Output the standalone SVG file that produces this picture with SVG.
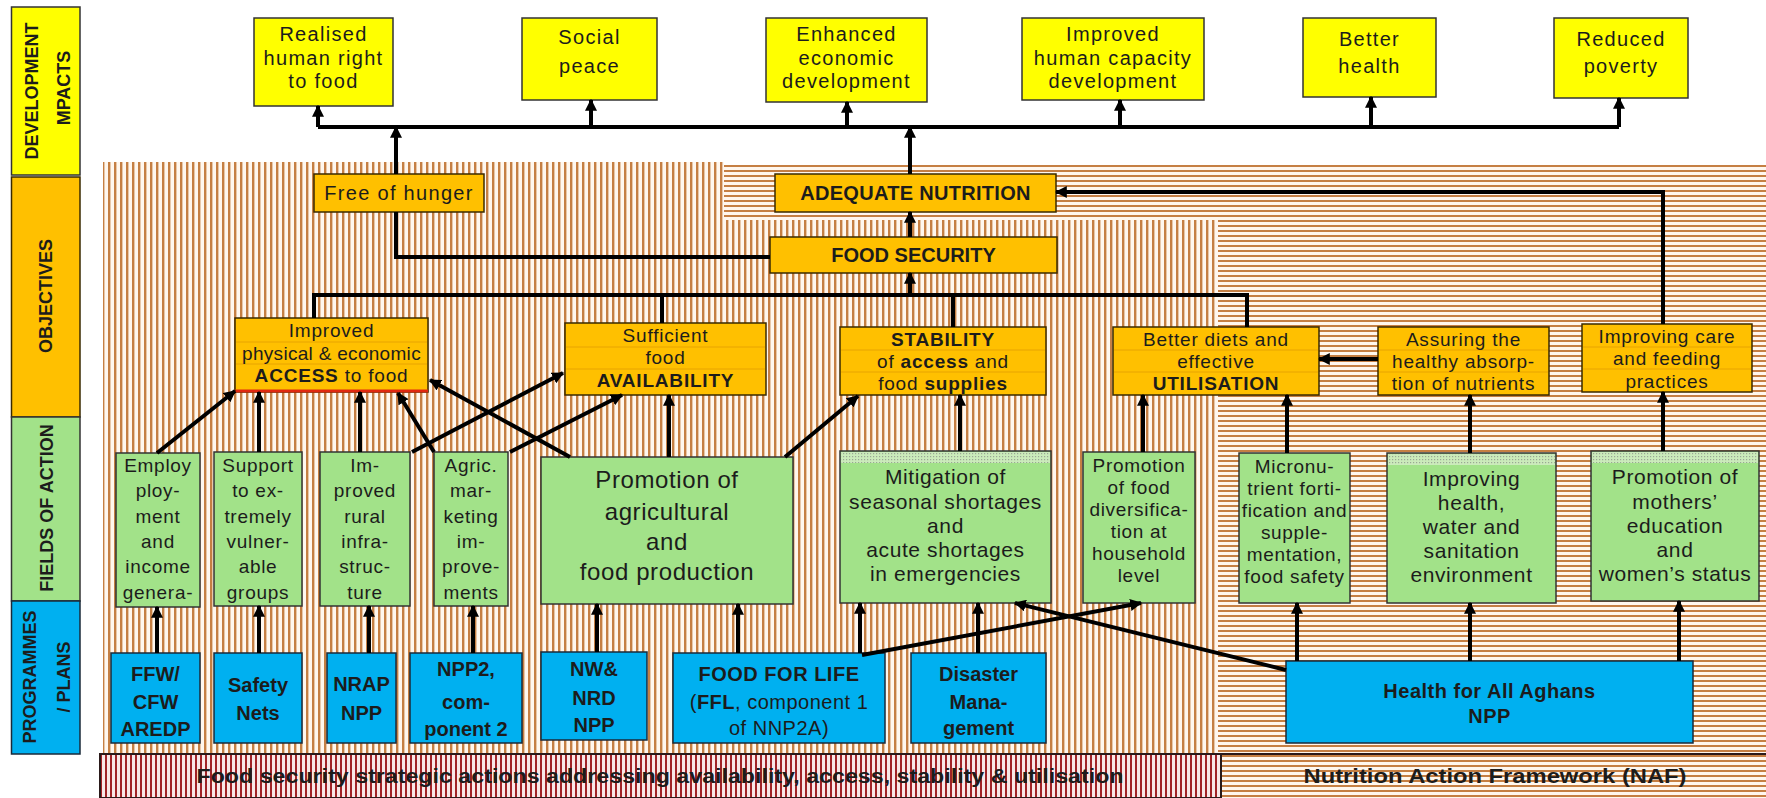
<svg xmlns="http://www.w3.org/2000/svg" width="1766" height="798" viewBox="0 0 1766 798">
<defs>
<pattern id="vs" width="6" height="8" patternUnits="userSpaceOnUse"><rect width="6" height="8" fill="#FFF7EE"/><rect width="2.4" height="8" fill="#C57F43"/></pattern>
<pattern id="hs" width="8" height="5" patternUnits="userSpaceOnUse"><rect width="8" height="5" fill="#FFF7EE"/><rect width="8" height="2" fill="#C57F43"/></pattern>
<pattern id="rs" width="5" height="8" patternUnits="userSpaceOnUse"><rect width="5" height="8" fill="#F8E8E8"/><rect width="2" height="8" fill="#A02327"/></pattern>
<pattern id="dt" width="3" height="3" patternUnits="userSpaceOnUse"><rect width="3" height="3" fill="#CBEBBB"/><rect width="1.2" height="1.2" fill="#9AA894"/></pattern>
<marker id="ah" viewBox="0 0 10 10" refX="9" refY="5" markerWidth="12" markerHeight="12" markerUnits="userSpaceOnUse" orient="auto"><path d="M0,0 L10,5 L0,10 z" fill="#000"/></marker>
</defs>
<style>
.ft{font-family:"Liberation Sans",Arial,sans-serif;text-anchor:middle;fill:#1c1c1c}
.b{font-weight:bold}
.yl{fill:#FFFF00;stroke:#333;stroke-width:1.5}
.or{fill:#FFC000;stroke:#3a2a00;stroke-width:1.5}
.gr{fill:#A2E289;stroke:#333;stroke-width:1.5}
.bl{fill:#00B0F0;stroke:#1a2a3a;stroke-width:1.5}
.rl{stroke:#E8A400;stroke-width:1}
.top{font-size:20px;letter-spacing:1.3px}
.obj{font-size:19px;letter-spacing:0.8px}
.fn{font-size:19px;letter-spacing:0.7px}
.fw{font-size:21px;letter-spacing:0.6px}
.pg{font-size:20px;font-weight:bold}
.lb{font-size:18px;font-weight:bold}
#connectors path{fill:none;stroke:#000;stroke-width:4}
.ar{marker-end:url(#ah)}
</style>
<rect width="1766" height="798" fill="#FFFFFF"/>
<g id="background">
<path d="M103,162 H724 V220 H1218 V754 H103 Z" fill="url(#vs)"/>
<path d="M724,165 H1766 V798 H1218 V220 H724 Z" fill="url(#hs)"/>
</g>
<g id="band-fs">
<rect x="100" y="754" width="1121" height="44" fill="url(#rs)" stroke="#2a1a1a" stroke-width="2"/>
<text class="ft b" x="660" y="783" font-size="20" fill="#2a0808" textLength="927" lengthAdjust="spacingAndGlyphs">Food security strategic actions addressing availability, access, stability &amp; utilisation</text>
</g>
<g id="band-naf">
<path d="M1221,798 V754 H1766" fill="none" stroke="#2a1a1a" stroke-width="2"/>
<text class="ft b" x="1495" y="783" font-size="20" textLength="383" lengthAdjust="spacingAndGlyphs">Nutrition Action Framework (NAF)</text>
</g>
<g id="label-impacts">
<rect x="11.5" y="7" width="68.5" height="168" class="yl"/>
<text class="ft lb" transform="translate(37.5,91) rotate(-90)">DEVELOPMENT</text>
<text class="ft lb" transform="translate(69.5,88) rotate(-90)">MPACTS</text>
</g>
<g id="label-objectives">
<rect x="11.5" y="177" width="68.5" height="240" class="or"/>
<text class="ft lb" transform="translate(52,296) rotate(-90)">OBJECTIVES</text>
</g>
<g id="label-fields">
<rect x="11.5" y="417" width="68.5" height="184" class="gr"/>
<text class="ft lb" transform="translate(53,508) rotate(-90)">FIELDS OF ACTION</text>
</g>
<g id="label-programmes">
<rect x="11.5" y="601" width="68.5" height="153" class="bl"/>
<text class="ft lb" transform="translate(36,677) rotate(-90)">PROGRAMMES</text>
<text class="ft lb" transform="translate(69.5,677) rotate(-90)">/ PLANS</text>
</g>

<g id="impact-right-to-food"><rect x="254" y="18" width="139" height="88" class="yl"/>
<text class="ft top"><tspan x="323.5" y="41">Realised</tspan><tspan x="323.5" y="65">human right</tspan><tspan x="323.5" y="88">to food</tspan></text></g>
<g id="impact-social-peace"><rect x="522" y="18" width="135" height="82" class="yl"/>
<text class="ft top"><tspan x="589.5" y="44">Social</tspan><tspan x="589.5" y="73">peace</tspan></text></g>
<g id="impact-economic"><rect x="766" y="18" width="161" height="84" class="yl"/>
<text class="ft top"><tspan x="846.5" y="41">Enhanced</tspan><tspan x="846.5" y="65">economic</tspan><tspan x="846.5" y="88">development</tspan></text></g>
<g id="impact-human-capacity"><rect x="1022" y="18" width="182" height="82" class="yl"/>
<text class="ft top"><tspan x="1113" y="41">Improved</tspan><tspan x="1113" y="65">human capacity</tspan><tspan x="1113" y="88">development</tspan></text></g>
<g id="impact-health"><rect x="1303" y="18" width="133" height="79" class="yl"/>
<text class="ft top"><tspan x="1369.5" y="46">Better</tspan><tspan x="1369.5" y="73">health</tspan></text></g>
<g id="impact-poverty"><rect x="1554" y="18" width="134" height="80" class="yl"/>
<text class="ft top"><tspan x="1621" y="46">Reduced</tspan><tspan x="1621" y="73">poverty</tspan></text></g>

<g id="obj-free-of-hunger"><rect x="314" y="174" width="170" height="38" class="or"/>
<text class="ft top" x="399" y="200">Free of hunger</text></g>
<g id="obj-adequate-nutrition"><rect x="775" y="174" width="281" height="38" class="or"/>
<text class="ft b" x="915.5" y="200" font-size="20" letter-spacing="0.3">ADEQUATE NUTRITION</text></g>
<g id="obj-food-security"><rect x="770" y="237" width="287" height="36" class="or" stroke-width="2.5"/>
<text class="ft b" x="913.5" y="262" font-size="20">FOOD SECURITY</text></g>
<g id="obj-access"><rect x="235" y="318" width="193" height="74" class="or"/>
<line x1="236" y1="342" x2="427" y2="342" class="rl"/><line x1="236" y1="364" x2="427" y2="364" class="rl"/>
<line x1="235" y1="391" x2="428" y2="391" stroke="#E02810" stroke-width="3"/>
<text class="ft obj"><tspan x="331.5" y="337">Improved</tspan><tspan x="331.5" y="360" letter-spacing="0.3">physical &amp; economic</tspan><tspan x="331.5" y="382"><tspan class="b">ACCESS</tspan> to food</tspan></text></g>
<g id="obj-availability"><rect x="565" y="323" width="201" height="72" class="or"/>
<line x1="566" y1="347" x2="765" y2="347" class="rl"/><line x1="566" y1="369" x2="765" y2="369" class="rl"/>
<text class="ft obj"><tspan x="665.5" y="342">Sufficient</tspan><tspan x="665.5" y="364">food</tspan><tspan x="665.5" y="387" class="b">AVAILABILITY</tspan></text></g>
<g id="obj-stability"><rect x="840" y="327" width="206" height="68" class="or"/>
<line x1="841" y1="350" x2="1045" y2="350" class="rl"/><line x1="841" y1="372" x2="1045" y2="372" class="rl"/>
<text class="ft obj"><tspan x="943" y="346" class="b">STABILITY</tspan><tspan x="943" y="368">of <tspan class="b">access</tspan> and</tspan><tspan x="943" y="390">food <tspan class="b">supplies</tspan></tspan></text></g>
<g id="obj-utilisation"><rect x="1113" y="327" width="206" height="68" class="or"/>
<line x1="1114" y1="350" x2="1318" y2="350" class="rl"/><line x1="1114" y1="372" x2="1318" y2="372" class="rl"/>
<text class="ft obj"><tspan x="1216" y="346">Better diets and</tspan><tspan x="1216" y="368">effective</tspan><tspan x="1216" y="390" class="b">UTILISATION</tspan></text></g>
<g id="obj-absorption"><rect x="1378" y="327" width="171" height="68" class="or"/>
<line x1="1379" y1="350" x2="1548" y2="350" class="rl"/><line x1="1379" y1="372" x2="1548" y2="372" class="rl"/>
<text class="ft obj"><tspan x="1463.5" y="346">Assuring the</tspan><tspan x="1463.5" y="368">healthy absorp-</tspan><tspan x="1463.5" y="390">tion of nutrients</tspan></text></g>
<g id="obj-care"><rect x="1582" y="324" width="170" height="68" class="or"/>
<line x1="1583" y1="347" x2="1751" y2="347" class="rl"/><line x1="1583" y1="369" x2="1751" y2="369" class="rl"/>
<text class="ft obj"><tspan x="1667" y="343">Improving care</tspan><tspan x="1667" y="365">and feeding</tspan><tspan x="1667" y="388">practices</tspan></text></g>

<g id="field-employment"><rect x="116" y="453" width="84" height="154" class="gr"/>
<text class="ft fn"><tspan x="158" y="472">Employ</tspan><tspan x="158" y="497">ploy-</tspan><tspan x="158" y="523">ment</tspan><tspan x="158" y="548">and</tspan><tspan x="158" y="573">income</tspan><tspan x="158" y="599">genera-</tspan></text></g>
<g id="field-vulnerable"><rect x="214" y="452" width="88" height="154" class="gr"/>
<text class="ft fn"><tspan x="258" y="472">Support</tspan><tspan x="258" y="497">to ex-</tspan><tspan x="258" y="523">tremely</tspan><tspan x="258" y="548">vulner-</tspan><tspan x="258" y="573">able</tspan><tspan x="258" y="599">groups</tspan></text></g>
<g id="field-infrastructure"><rect x="320" y="452" width="90" height="154" class="gr"/>
<text class="ft fn"><tspan x="365" y="472">Im-</tspan><tspan x="365" y="497">proved</tspan><tspan x="365" y="523">rural</tspan><tspan x="365" y="548">infra-</tspan><tspan x="365" y="573">struc-</tspan><tspan x="365" y="599">ture</tspan></text></g>
<g id="field-marketing"><rect x="434" y="452" width="74" height="154" class="gr"/>
<text class="ft fn"><tspan x="471" y="472">Agric.</tspan><tspan x="471" y="497">mar-</tspan><tspan x="471" y="523">keting</tspan><tspan x="471" y="548">im-</tspan><tspan x="471" y="573">prove-</tspan><tspan x="471" y="599">ments</tspan></text></g>
<g id="field-production"><rect x="541" y="457" width="252" height="147" class="gr"/>
<text class="ft" font-size="24" letter-spacing="0.6"><tspan x="667" y="488">Promotion of</tspan><tspan x="667" y="520">agricultural</tspan><tspan x="667" y="550">and</tspan><tspan x="667" y="580">food production</tspan></text></g>
<g id="field-shortages"><rect x="840" y="451" width="211" height="152" class="gr"/>
<rect x="841" y="452" width="209" height="11" fill="url(#dt)"/>
<text class="ft fw"><tspan x="945.5" y="484">Mitigation of</tspan><tspan x="945.5" y="509">seasonal shortages</tspan><tspan x="945.5" y="533">and</tspan><tspan x="945.5" y="557">acute shortages</tspan><tspan x="945.5" y="581">in emergencies</tspan></text></g>
<g id="field-diversification"><rect x="1083" y="452" width="112" height="151" class="gr"/>
<text class="ft fn"><tspan x="1139" y="472">Promotion</tspan><tspan x="1139" y="494">of food</tspan><tspan x="1139" y="516">diversifica-</tspan><tspan x="1139" y="538">tion at</tspan><tspan x="1139" y="560">household</tspan><tspan x="1139" y="582">level</tspan></text></g>
<g id="field-micronutrient"><rect x="1239" y="453" width="111" height="150" class="gr"/>
<text class="ft fn"><tspan x="1294.5" y="473">Micronu-</tspan><tspan x="1294.5" y="495">trient forti-</tspan><tspan x="1294.5" y="517">fication and</tspan><tspan x="1294.5" y="539">supple-</tspan><tspan x="1294.5" y="561">mentation,</tspan><tspan x="1294.5" y="583">food safety</tspan></text></g>
<g id="field-wash"><rect x="1387" y="453" width="169" height="150" class="gr"/>
<rect x="1388" y="454" width="167" height="11" fill="url(#dt)"/>
<text class="ft fw"><tspan x="1471.5" y="486">Improving</tspan><tspan x="1471.5" y="510">health,</tspan><tspan x="1471.5" y="534">water and</tspan><tspan x="1471.5" y="558">sanitation</tspan><tspan x="1471.5" y="582">environment</tspan></text></g>
<g id="field-mothers"><rect x="1591" y="451" width="168" height="150" class="gr"/>
<rect x="1592" y="452" width="166" height="11" fill="url(#dt)"/>
<text class="ft fw"><tspan x="1675" y="484">Promotion of</tspan><tspan x="1675" y="509">mothers’</tspan><tspan x="1675" y="533">education</tspan><tspan x="1675" y="557">and</tspan><tspan x="1675" y="581">women’s status</tspan></text></g>

<g id="prog-ffw"><rect x="111" y="653" width="89" height="90" class="bl"/>
<text class="ft pg"><tspan x="155.5" y="681">FFW/</tspan><tspan x="155.5" y="709">CFW</tspan><tspan x="155.5" y="736">AREDP</tspan></text></g>
<g id="prog-safety-nets"><rect x="214" y="653" width="88" height="90" class="bl"/>
<text class="ft pg"><tspan x="258" y="692">Safety</tspan><tspan x="258" y="720">Nets</tspan></text></g>
<g id="prog-nrap"><rect x="327" y="653" width="69" height="90" class="bl"/>
<text class="ft pg"><tspan x="361.5" y="691">NRAP</tspan><tspan x="361.5" y="720">NPP</tspan></text></g>
<g id="prog-npp2"><rect x="410" y="653" width="112" height="90" class="bl"/>
<text class="ft pg"><tspan x="466" y="676">NPP2,</tspan><tspan x="466" y="709">com-</tspan><tspan x="466" y="736">ponent 2</tspan></text></g>
<g id="prog-nw-nrd"><rect x="541" y="652" width="106" height="88" class="bl"/>
<text class="ft pg"><tspan x="594" y="676">NW&amp;</tspan><tspan x="594" y="705">NRD</tspan><tspan x="594" y="732">NPP</tspan></text></g>
<g id="prog-ffl"><rect x="673" y="653" width="212" height="90" class="bl"/>
<text class="ft" font-size="20" letter-spacing="0.5"><tspan x="779" y="681" class="b">FOOD FOR LIFE</tspan><tspan x="779" y="709">(<tspan class="b">FFL</tspan>, component 1</tspan><tspan x="779" y="735">of NNP2A)</tspan></text></g>
<g id="prog-disaster"><rect x="911" y="653" width="135" height="90" class="bl"/>
<text class="ft pg"><tspan x="978.5" y="681">Disaster</tspan><tspan x="978.5" y="709">Mana-</tspan><tspan x="978.5" y="735">gement</tspan></text></g>
<g id="prog-health-all"><rect x="1286" y="661" width="407" height="82" class="bl"/>
<text class="ft pg" letter-spacing="0.5"><tspan x="1489.5" y="698">Health for All Aghans</tspan><tspan x="1489.5" y="723">NPP</tspan></text></g>

<g id="connectors">
<path d="M318,127 H1619"/>
<path class="ar" d="M318,127 V106"/>
<path class="ar" d="M591,127 V100"/>
<path class="ar" d="M847,127 V102"/>
<path class="ar" d="M1120,127 V100"/>
<path class="ar" d="M1371,127 V97"/>
<path class="ar" d="M1619,127 V98"/>
<path class="ar" d="M396,174 V127"/>
<path class="ar" d="M910,174 V127"/>
<path class="ar" d="M910,237 V212"/>
<path d="M396,212 V257 H770"/>
<path d="M314,318 V295 H1247 V327"/>
<path d="M662,295 V323"/>
<path d="M953,295 V327"/>
<path class="ar" d="M910,295 V273"/>
<path class="ar" d="M1663,324 V192 H1056"/>
<path class="ar" d="M1378,359 H1319"/>
<path class="ar" d="M157,453 L235,391"/>
<path class="ar" d="M259,452 V392"/>
<path class="ar" d="M360,452 V392"/>
<path class="ar" d="M434,452 L398,393"/>
<path class="ar" d="M570,457 L430,380"/>
<path class="ar" d="M412,452 L563,373"/>
<path class="ar" d="M510,452 L622,395"/>
<path class="ar" d="M669,457 V395"/>
<path class="ar" d="M785,457 L858,396"/>
<path class="ar" d="M960,451 V395"/>
<path class="ar" d="M1143,452 V395"/>
<path class="ar" d="M1287,453 V395"/>
<path class="ar" d="M1470,453 V395"/>
<path class="ar" d="M1663,451 V392"/>
<path class="ar" d="M157,653 V607"/>
<path class="ar" d="M259,653 V606"/>
<path class="ar" d="M369,653 V606"/>
<path class="ar" d="M473,653 V606"/>
<path class="ar" d="M597,652 V604"/>
<path class="ar" d="M738,653 V604"/>
<path class="ar" d="M860,653 V603"/>
<path class="ar" d="M978,653 V603"/>
<path class="ar" d="M862,655 L1141,603"/>
<path class="ar" d="M1286,670 L1015,603"/>
<path class="ar" d="M1297,661 V603"/>
<path class="ar" d="M1470,661 V603"/>
<path class="ar" d="M1679,661 V601"/>
</g>
</svg>
